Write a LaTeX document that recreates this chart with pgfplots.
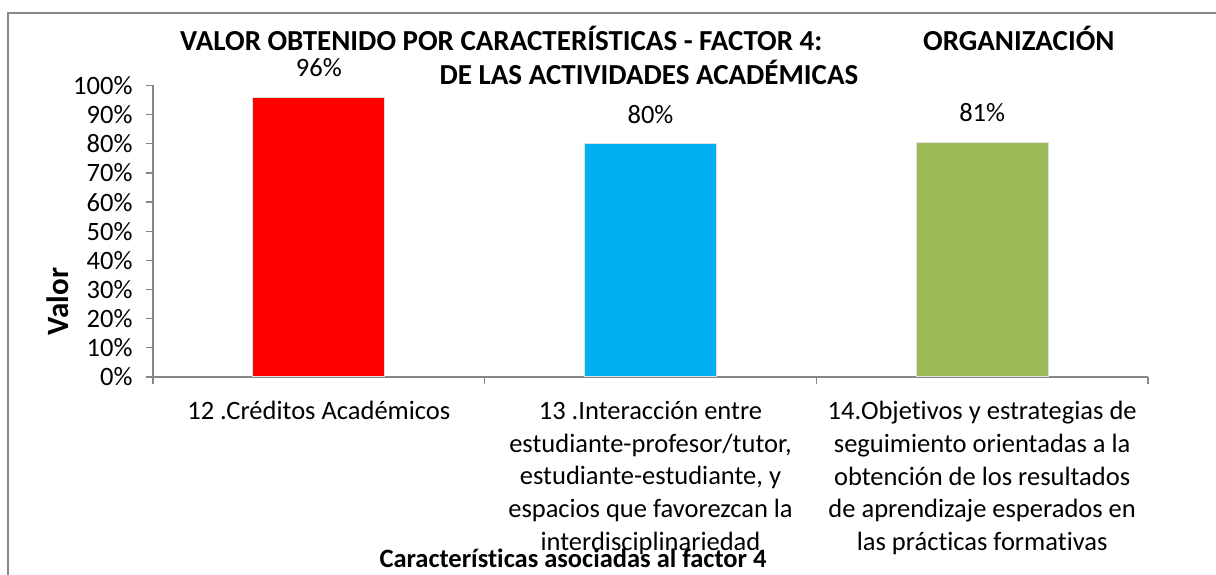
\documentclass[border=0pt]{standalone}
\usepackage{fontspec}
\setmainfont{Carlito}[Ligatures={NoCommon}]
\usepackage{pgfplots}
\pgfplotsset{compat=1.18}
\definecolor{frameg}{HTML}{878787}
\definecolor{axisg}{HTML}{868686}
\definecolor{cred}{HTML}{FF0000}
\definecolor{ccyan}{HTML}{00B0F0}
\definecolor{cgreen}{HTML}{9BBB59}
\newcommand{\lbl}{\fontsize{26.5}{32.6}\selectfont}
\begin{document}
\begin{tikzpicture}[x=1pt,y=1pt]
\path[use as bounding box] (0,0) rectangle (1216,575);
\draw[frameg, line width=1.5pt] (8,-10) -- (8,562) -- (1230,562);
\begin{axis}[
  at={(153pt,198pt)}, anchor=south west,
  scale only axis, width=995pt, height=291.5pt,
  xmin=-0.5, xmax=2.5, ymin=0, ymax=100,
  axis x line*=bottom, axis y line*=left,
  axis line style={draw=axisg, line width=1.3pt, -},
  ytick={0,10,...,100},
  yticklabels={0\%,10\%,20\%,30\%,40\%,50\%,60\%,70\%,80\%,90\%,100\%},
  tick align=outside, major tick length=7pt,
  every tick/.style={draw=axisg, line width=1.3pt},
  xtick={0,1,2},
  x tick style={draw=none},
  extra x ticks={-0.5,0.5,1.5,2.5},
  extra x tick labels={},
  extra x tick style={x tick style={draw=axisg, line width=1.3pt}, major tick length=7pt},
  xticklabels={
    {12 .Créditos Académicos},
    {13 .Interacción entre\\estudiante-profesor/tutor,\\estudiante-estudiante, y\\espacios que favorezcan la\\interdisciplinariedad},
    {14.Objetivos y estrategias de\\seguimiento orientadas a la\\obtención de los resultados\\de aprendizaje esperados en\\las prácticas formativas}},
  xticklabel style={font=\lbl, align=center, anchor=north, yshift=-14pt},
  yticklabel style={font=\lbl, xshift=-10pt},
  ybar, bar width=132pt,
  point meta=explicit symbolic,
  nodes near coords,
  every node near coord/.append style={font=\lbl, inner sep=0pt, yshift=20pt, text=black},
  clip=false,
]
\addplot[bar shift=0pt, fill=cred, draw=black!12, line width=1pt] coordinates {(0,96) [96\%]};
\addplot[bar shift=0pt, fill=ccyan, draw=black!12, line width=1pt] coordinates {(1,80) [80\%]};
\addplot[bar shift=0pt, fill=cgreen, draw=black!12, line width=1pt] coordinates {(2,80.5) [81\%]};
\end{axis}
\node[anchor=base west, font=\fontsize{29}{34}\selectfont\bfseries, inner sep=0pt] at (180,524.5) {VALOR OBTENIDO POR CARACTERÍSTICAS - FACTOR 4:};
\node[anchor=base west, font=\fontsize{29}{34}\selectfont\bfseries, inner sep=0pt] at (923,524.5) {ORGANIZACIÓN};
\node[anchor=base, font=\fontsize{29}{34}\selectfont\bfseries, inner sep=0pt] at (649,490.5) {DE LAS ACTIVIDADES ACADÉMICAS};
\node[rotate=90, font=\fontsize{31}{36}\selectfont\bfseries, inner sep=0pt] at (58,273.5) {Valor};
\node[font=\lbl\bfseries, inner sep=0pt] at (573,17) {Características asociadas al factor 4};
\end{tikzpicture}
\end{document}
